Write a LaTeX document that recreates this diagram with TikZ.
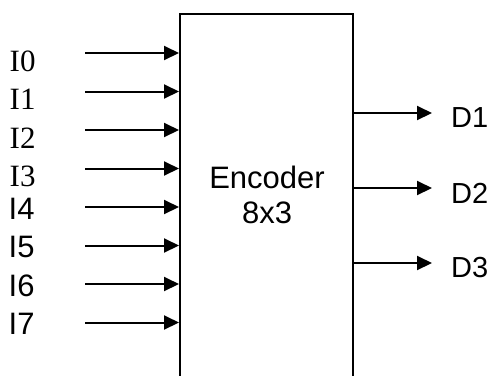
\documentclass[tikz,border=0pt]{standalone}
\usepackage{fontspec}
\setmainfont{Liberation Serif}
\newfontfamily\arialfont{Liberation Sans}
\usetikzlibrary{arrows.meta}
\tikzset{
  sig/.style={line width=2bp, -{Triangle[length=15bp,width=14bp]}},
  boxstyle/.style={draw, line width=1.6bp, inner sep=0pt, anchor=north west},
  serlbl/.style={anchor=west, inner sep=0pt, font=\fontsize{31bp}{34bp}\selectfont},
  sanslbl/.style={anchor=west, inner sep=0pt, font=\arialfont\fontsize{31bp}{34bp}\selectfont},
  outlbl/.style={anchor=west, inner sep=0pt, font=\arialfont\fontsize{29bp}{34bp}\selectfont},
}
\begin{document}
\begin{tikzpicture}[x=1bp,y=-1bp]
\useasboundingbox (0,0) rectangle (493,375);
\clip (0,0) rectangle (493,375);
\node[boxstyle, minimum width=173bp, minimum height=382bp] (enc) at (179,13) {};
\node[align=center, inner sep=0pt, font=\arialfont\fontsize{31bp}{34.5bp}\selectfont] (title) at (267,195) {Encoder\\8x3};
% inputs
\foreach \i/\y in {0/53,1/91.5,2/130,3/168.5,4/207,5/245.5,6/284,7/322.5}{
  \coordinate (in\i) at (85,\y);
  \draw[sig] (in\i) -- (in\i -| enc.west);
}
\foreach \i/\y in {0/61,1/99.5,2/138,3/176.5}{
  \node[serlbl] (l\i) at (9.5,\y) {I\i};
}
\foreach \i/\y in {4/208.5,5/247,6/285.5,7/324}{
  \node[sanslbl] (l\i) at (8.5,\y) {I\i};
}
% outputs
\foreach \i/\y in {1/113,2/188,3/263}{
  \coordinate (out\i) at (432,\y);
  \draw[sig] (out\i -| enc.east) -- (out\i);
  \node[outlbl] (d\i) at (451,\y+5) {D\i};
}
\end{tikzpicture}
\end{document}
